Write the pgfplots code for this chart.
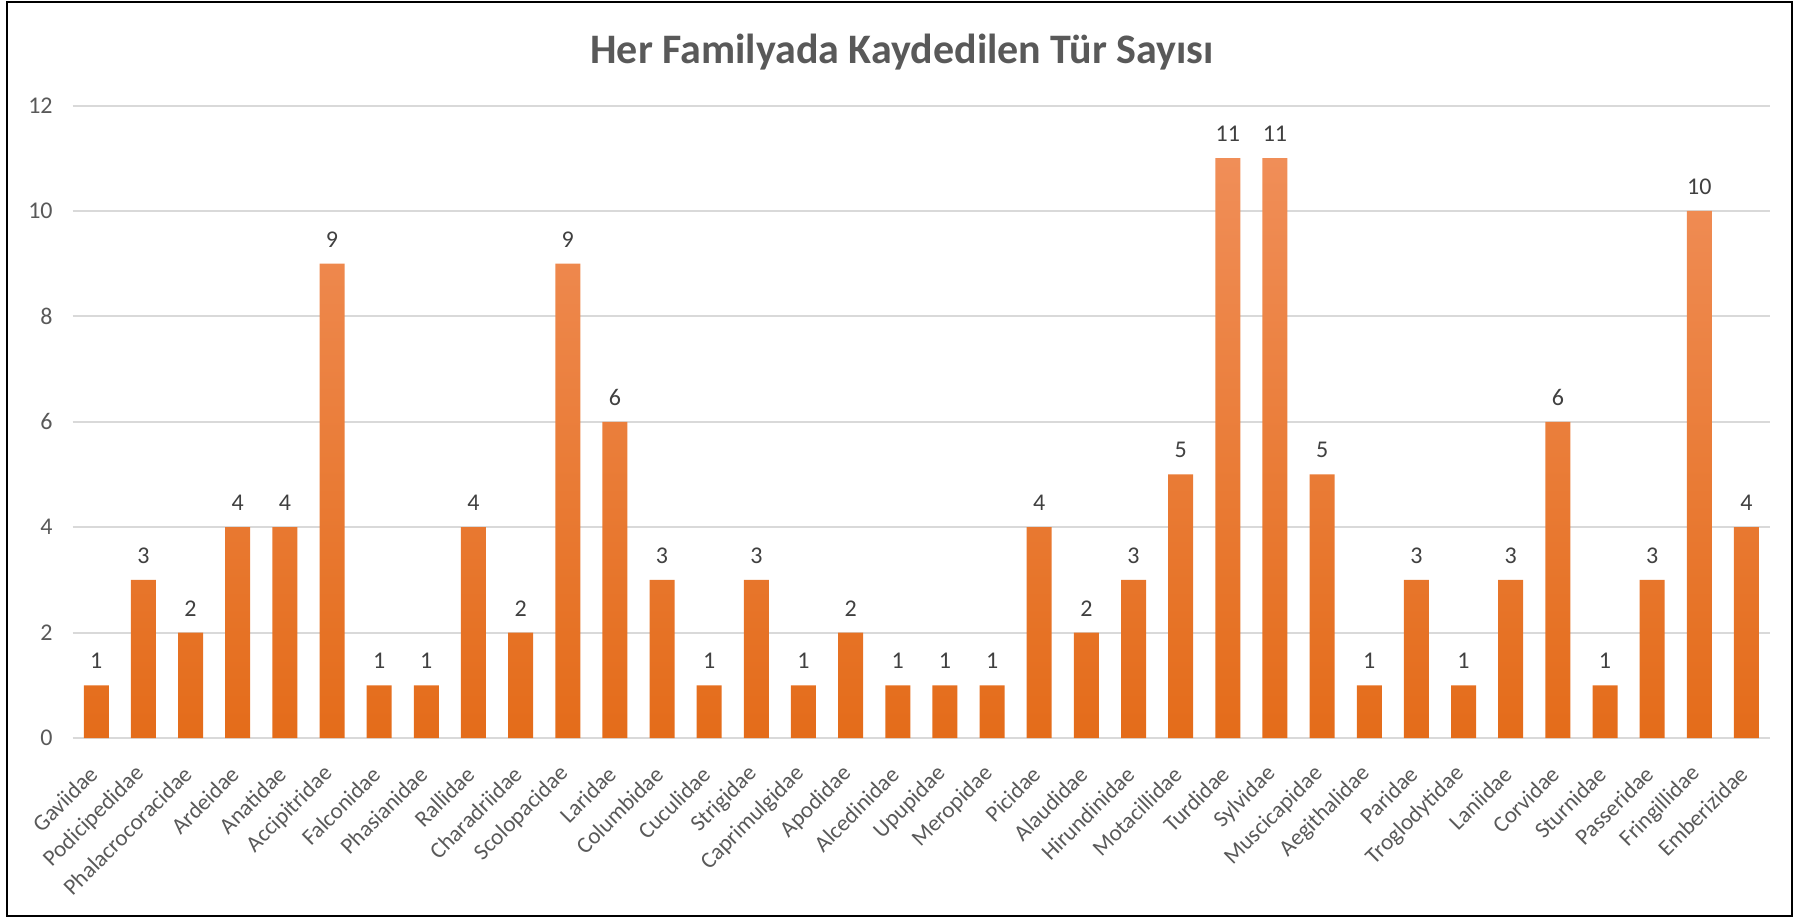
\documentclass[border=0pt]{standalone}
\usepackage{fontspec}
\setmainfont{Carlito}
\usepackage{pgfplots}
\pgfplotsset{compat=1.18}
\definecolor{txt}{RGB}{89,89,89}
\definecolor{gridc}{RGB}{217,217,217}
\definecolor{lbl}{RGB}{64,64,64}
\definecolor{bartop}{RGB}{240,142,88}
\definecolor{barmid}{RGB}{243,128,50}
\definecolor{barbot}{RGB}{228,108,26}
\pgfplotstableread{
x y
0 1
1 3
2 2
3 4
4 4
5 9
6 1
7 1
8 4
9 2
10 9
11 6
12 3
13 1
14 3
15 1
16 2
17 1
18 1
19 1
20 4
21 2
22 3
23 5
24 11
25 11
26 5
27 1
28 3
29 1
30 3
31 6
32 1
33 3
34 10
35 4
}\datatable
\begin{document}
\begin{tikzpicture}
\path[use as bounding box] (0,0) rectangle (899pt,-459.5pt);
\draw[line width=1pt] (3.5pt,-1pt) rectangle (896pt,-458pt);
\node[font=\bfseries\fontsize{21}{25}\selectfont, text=txt] at (451pt,-26pt) {Her Familyada Kaydedilen Tür Sayısı};
\begin{axis}[
  at={(36.35pt,-369pt)}, anchor=south west,
  scale only axis, width=848.65pt, height=316.25pt,
  xmin=-0.5, xmax=35.5, ymin=0, ymax=12,
  ytick={0,2,...,12},
  xtick=data,
  xticklabels={Gaviidae,Podicipedidae,Phalacrocoracidae,Ardeidae,Anatidae,Accipitridae,Falconidae,Phasianidae,Rallidae,Charadriidae,Scolopacidae,Laridae,Columbidae,Cuculidae,Strigidae,Caprimulgidae,Apodidae,Alcedinidae,Upupidae,Meropidae,Picidae,Alaudidae,Hirundinidae,Motacillidae,Turdidae,Sylvidae,Muscicapidae,Aegithalidae,Paridae,Troglodytidae,Laniidae,Corvidae,Sturnidae,Passeridae,Fringillidae,Emberizidae},
  /pgf/number format/assume math mode=true,
  axis line style={draw=none},
  major tick length=0pt,
  ymajorgrids, grid style={gridc, line width=1pt},
  tick label style={font=\fontsize{12}{14}\selectfont, text=txt},
  yticklabel style={xshift=-6.5pt},
  xticklabel style={font=\fontsize{11.5}{13}\selectfont, xshift=1pt, yshift=-13.75pt, rotate=45, anchor=east},
  ybar, bar width=12.5pt,
  nodes near coords,
  nodes near coords style={font=\fontsize{12}{14}\selectfont, text=lbl, yshift=4.7pt},
  clip=false,
]
\addplot[draw=none, top color=bartop, middle color=barmid, bottom color=barbot] table[x=x,y=y] {\datatable};
\end{axis}
\end{tikzpicture}
\end{document}
